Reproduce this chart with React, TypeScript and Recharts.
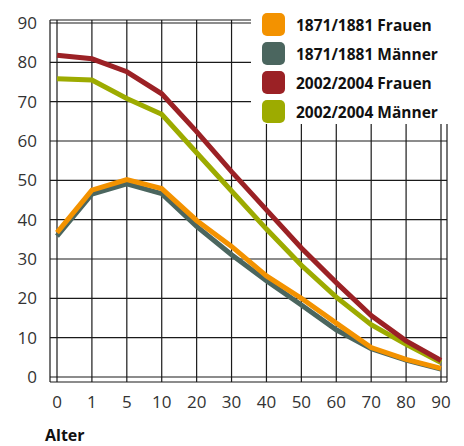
import React from "react";
import { LineChart, Line, XAxis, YAxis, CartesianGrid, Legend } from "recharts";

const ages = ["0", "1", "5", "10", "20", "30", "40", "50", "60", "70", "80", "90"];
const frauen1871 = [36.7, 47.5, 50.2, 47.9, 39.8, 33.2, 25.7, 20.0, 13.7, 7.5, 4.5, 2.2];
const maenner1871 = [35.8, 46.5, 49.1, 46.6, 38.3, 31.1, 24.5, 18.3, 12.0, 7.2, 4.3, 2.0];
const frauen2002 = [81.8, 80.9, 77.6, 72.0, 62.4, 52.2, 42.5, 32.8, 24.0, 15.6, 9.2, 4.2];
const maenner2002 = [75.8, 75.5, 70.8, 66.8, 57.0, 47.3, 37.6, 28.4, 20.3, 13.3, 8.3, 3.7];
const yTicks = [0, 10, 20, 30, 40, 50, 60, 70, 80, 90];

const series = [
  { key: "f1871", name: "1871/1881 Frauen", color: "#f39200" },
  { key: "m1871", name: "1871/1881 Männer", color: "#4b665f" },
  { key: "f2002", name: "2002/2004 Frauen", color: "#9b2125" },
  { key: "m2002", name: "2002/2004 Männer", color: "#9dab00" },
];

const data = ages.map((age, i) => ({
  age,
  f1871: frauen1871[i],
  m1871: maenner1871[i],
  f2002: frauen2002[i],
  m2002: maenner2002[i],
}));

const font = "'Open Sans', sans-serif";

function LegendBox() {
  return (
    <div style={{ background: "#fff", width: 213, height: 124, paddingTop: 10, boxSizing: "border-box" }}>
      {series.map((s) => (
        <div key={s.key} style={{ display: "flex", alignItems: "center", height: 29, paddingLeft: 11 }}>
          <div style={{ width: 23, height: 23, borderRadius: 5, background: s.color, marginRight: 11 }} />
          <span style={{ fontFamily: font, fontWeight: 700, fontSize: 15.5, color: "#111", letterSpacing: 0 }}>
            {s.name}
          </span>
        </div>
      ))}
    </div>
  );
}

export default function App() {
  const drawOrder = [series[1], series[0], series[3], series[2]];
  return (
    <div style={{ position: "absolute", left: 0, top: 0, width: 464, height: 446, background: "#fff" }}>
      <LineChart width={464} height={446} data={data} margin={{ top: 20, right: 17, left: 0, bottom: 0 }}>
        <CartesianGrid stroke="#1a1a1a" strokeWidth={1.2} />
        <XAxis
          dataKey="age"
          padding={{ left: 7, right: 6 }}
          axisLine={false}
          tickLine={false}
          tickSize={0}
          tickMargin={14}
          height={64}
          tick={{ fill: "#333", fontSize: 17, fontFamily: font }}
          label={{
            content: (props: any) => {
              const vb = props.viewBox || {};
              return (
                <text x={vb.x - 5} y={vb.y + 59} fill="#111" fontSize={16} fontWeight={700} fontFamily={font}>
                  Alter
                </text>
              );
            },
          }}
        />
        <YAxis
          domain={[0, 90]}
          ticks={yTicks}
          padding={{ top: 3, bottom: 5 }}
          axisLine={false}
          tickLine={false}
          tickSize={0}
          tickMargin={13}
          width={50}
          tick={{ fill: "#333", fontSize: 17, fontFamily: font }}
        />
        <Legend
          layout="horizontal"
          verticalAlign="middle"
          align="center"
          content={() => <LegendBox />}
          wrapperStyle={{ position: "absolute", top: 0, left: 251, width: 213, height: 124 }}
        />
        {drawOrder.map((s) => (
          <Line
            key={s.key}
            type="linear"
            dataKey={s.key}
            name={s.name}
            stroke={s.color}
            strokeWidth={5}
            dot={false}
            activeDot={false}
            isAnimationActive={false}
          />
        ))}
      </LineChart>
    </div>
  );
}
